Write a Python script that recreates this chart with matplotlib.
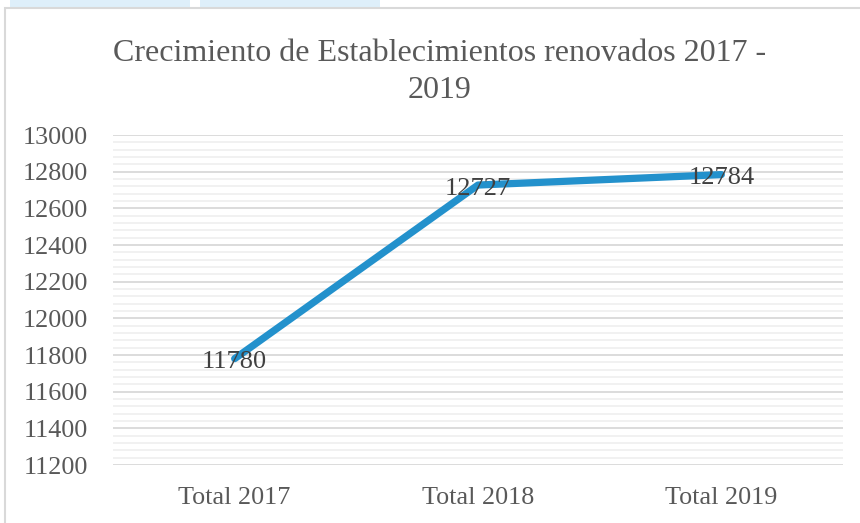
import matplotlib.pyplot as plt
from matplotlib.patches import Rectangle
from matplotlib.ticker import MultipleLocator

# datos
categorias = ['Total 2017', 'Total 2018', 'Total 2019']
renovados = [11780, 12727, 12784]
titulo = 'Crecimiento de Establecimientos renovados 2017 -\n2019'

gris = '#595959'
azul = '#2391cc'

plt.rcParams['font.family'] = ['Liberation Serif', 'DejaVu Serif']

fig = plt.figure(figsize=(8.6, 5.23), dpi=100)

# pestañas azul claro arriba y borde del grafico
fig.patches.append(Rectangle((10/860, 1-8/523), 180/860, 8/523, transform=fig.transFigure,
                             facecolor='#deeffa', edgecolor='none'))
fig.patches.append(Rectangle((200/860, 1-8/523), 180/860, 8/523, transform=fig.transFigure,
                             facecolor='#deeffa', edgecolor='none'))
fig.patches.append(Rectangle((5/860, -0.01), 1.0, 1-8/523+0.01, transform=fig.transFigure,
                             facecolor='none', edgecolor='#d9d9d9', linewidth=1.5))

ax = fig.add_axes([113/860, 1-465/523, 730/860, 330/523])
x = list(range(len(categorias)))
ax.plot(x, renovados, color=azul, linewidth=5.2, solid_capstyle='round', solid_joinstyle='round')
for xi, v in zip(x, renovados):
    ax.annotate(str(v), (xi, v), xytext=(0, -2.5), textcoords='offset points',
                ha='center', va='center', fontsize=19, color='#404040')

ax.set_xlim(-0.5, 2.5)
ax.set_ylim(11200, 13000)
ax.yaxis.set_major_locator(MultipleLocator(200))
ax.yaxis.set_minor_locator(MultipleLocator(40))
ax.set_xticks(x)
ax.set_xticklabels(categorias)
ax.grid(True, which='major', axis='y', color='#d9d9d9', linewidth=1.3)
ax.grid(True, which='minor', axis='y', color='#ededed', linewidth=1.1)
ax.set_axisbelow(True)
for s in ax.spines.values():
    s.set_visible(False)
ax.tick_params(axis='both', which='both', length=0, labelsize=18.8, labelcolor=gris)
ax.tick_params(axis='y', pad=18)
ax.tick_params(axis='x', pad=16)

fig.text(440/860, 1-72/523, titulo, ha='center', va='center', fontsize=23,
         color=gris, linespacing=1.4)

plt.savefig('out.png', dpi=100)
